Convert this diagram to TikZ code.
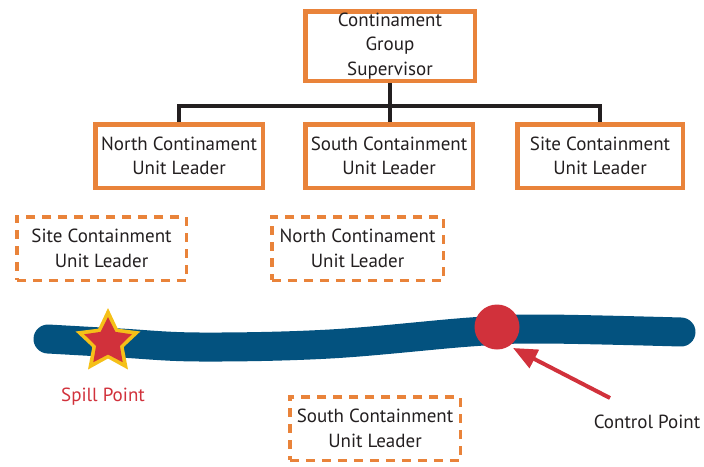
\documentclass[tikz,border=0pt]{standalone}
\usepackage{fontspec}
\setmainfont{PT Sans}
\usetikzlibrary{arrows.meta}
\definecolor{orng}{HTML}{E9833A}
\definecolor{river}{HTML}{03527F}
\definecolor{redc}{HTML}{D1313B}
\definecolor{yell}{HTML}{F5C018}
\definecolor{ink}{HTML}{231F20}
\begin{document}
\begin{tikzpicture}[x=1pt,y=-1pt,
  every node/.style={font=\fontsize{19}{24.5}\selectfont, align=center, inner sep=0pt, text=ink},
  solidbox/.style={draw=orng, line width=4.5pt, fill=white},
  dashbox/.style={draw=orng, line width=3.5pt, dash pattern=on 9pt off 7pt},
  conn/.style={draw=ink, line width=3.8pt}]
\useasboundingbox (0,0) rectangle (704,466);
% org chart
\node[solidbox, minimum width=169.5pt, minimum height=69.5pt] (top) at (390,46) {Continament\\Group\\Supervisor};
\node[solidbox, minimum width=167.5pt, minimum height=63.5pt] (b1) at (179,156) {North Continament\\Unit Leader};
\node[solidbox, minimum width=167.5pt, minimum height=63.5pt] (b2) at (389,156) {South Containment\\Unit Leader};
\node[solidbox, minimum width=165.5pt, minimum height=63.5pt] (b3) at (600,156) {Site Containment\\Unit Leader};
\coordinate (bus) at (390,106);
\draw[conn] (top.south) -- (top.south |- b2.north);
\draw[conn] (b1.north) |- (bus) -| (b3.north);
% dashed boxes
\node[dashbox, minimum width=169.5pt, minimum height=63.5pt] (d1) at (101.5,248.5) {Site Containment\\Unit Leader};
\node[dashbox, minimum width=171.5pt, minimum height=63.5pt] (d2) at (357.5,248.5) {North Continament\\Unit Leader};
\node[dashbox, minimum width=170.5pt, minimum height=63.5pt] (d3) at (375,428.5) {South Containment\\Unit Leader};
% river
\draw[river, line width=29pt, line cap=round] plot[smooth, tension=0.6] coordinates {(48,339) (120,343) (200,347) (330,344) (470,332) (540,329) (681,332)};
% star
\fill[yell] (108,342) +(90:34pt) -- +(126:16.5pt) -- +(162:34pt) -- +(198:16.5pt) -- +(234:34pt) -- +(270:16.5pt) -- +(306:34pt) -- +(342:16.5pt) -- +(18:34pt) -- +(54:16.5pt) -- cycle;
\fill[redc] (108,342) +(90:25pt) -- +(126:12.5pt) -- +(162:25pt) -- +(198:12.5pt) -- +(234:25pt) -- +(270:12.5pt) -- +(306:25pt) -- +(342:12.5pt) -- +(18:25pt) -- +(54:12.5pt) -- cycle;
% control point
\node[circle, fill=redc, minimum size=45pt] (ctrl) at (497,327) {};
\coordinate (tip) at (513,348);
\coordinate (tail) at (610,398);
\draw[redc, line width=4pt, -{Triangle[length=24pt,width=20pt]}] (tail) -- (tip);
% labels
\node[text=redc] (spill) at (103,397) {Spill Point};
\node (cp) at (647,422) {Control Point};
\end{tikzpicture}
\end{document}
